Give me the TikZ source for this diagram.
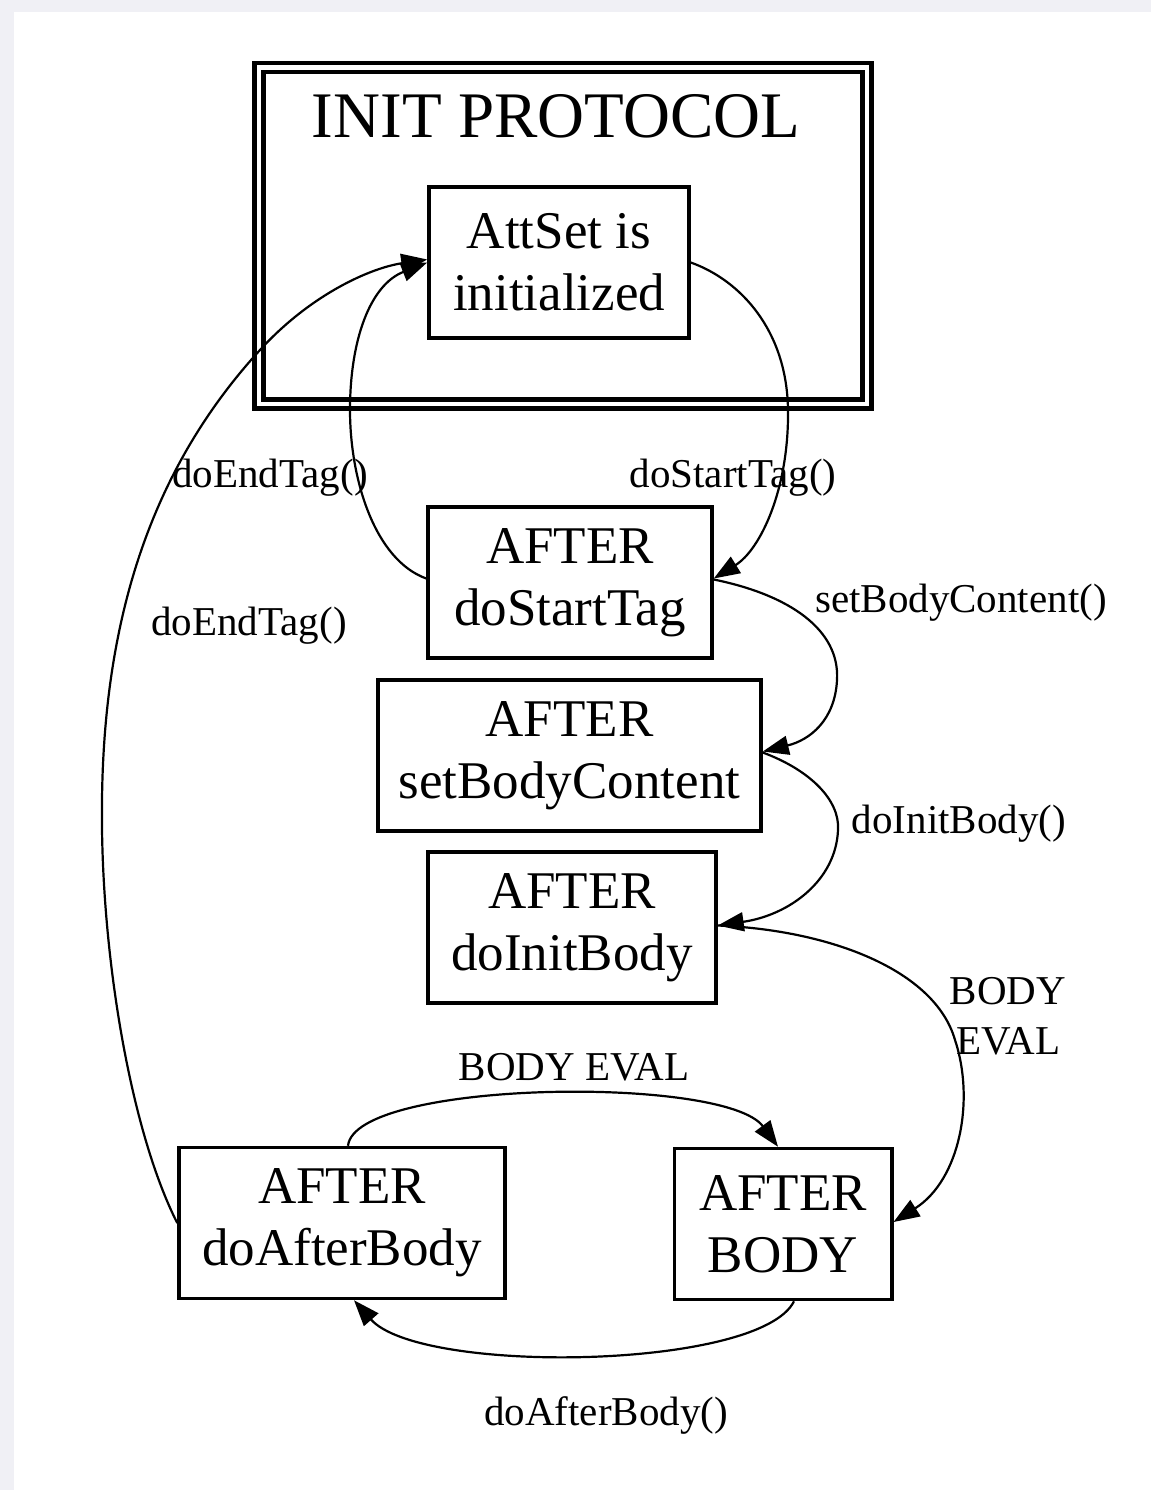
\documentclass[tikz,border=0pt]{standalone}
\usepackage{fontspec}
\setmainfont{Liberation Serif}
\usetikzlibrary{arrows.meta,calc}
\definecolor{framegray}{RGB}{240,240,245}
\begin{document}
\begin{tikzpicture}[x=1pt,y=-1pt,
  statebox/.style={draw, line width=3.5pt, rectangle, minimum height=151pt, inner sep=0pt, align=center, font=\fontsize{53}{62}\selectfont},
  lbl/.style={inner sep=0pt, anchor=base, font=\fontsize{41}{50}\selectfont},
  trans/.style={line width=2.2pt, -{Triangle[length=26pt,width=19pt]}},
  clusterbox/.style={draw, line width=4.5pt, double=white, double distance=4.5pt, rectangle, inner sep=0pt},
]
\useasboundingbox (0,0) rectangle (1151,1490);
\fill[framegray] (0,0) rectangle (1151,1490);
\fill[white] (14,12) rectangle (1151,1490);

% cluster
\node[clusterbox, minimum width=607.75pt, minimum height=336.5pt] (cluster) at (562.9,235.75) {};
\node[inner sep=0pt, anchor=base, font=\fontsize{65}{70}\selectfont] (ctitle) at (556,138) {INIT PROTOCOL};

% states
\node[statebox, minimum width=260pt] (attset) at (559,262.5) {AttSet is\\initialized};
\node[statebox, minimum width=284pt] (dostart) at (570,582.5) {AFTER\\doStartTag};
\node[statebox, minimum width=383pt] (setbody) at (569.5,755.5) {AFTER\\setBodyContent};
\node[statebox, minimum width=288pt] (initbody) at (572,927.5) {AFTER\\doInitBody};
\node[statebox, minimum width=326pt] (afterbody) at (342,1223) {AFTER\\doAfterBody};
\node[statebox, minimum width=217.5pt] (body) at (783,1224) {AFTER\\BODY};

% transitions
\draw[trans] (attset.east) .. controls (740,280) and (787,330) .. (788,410)
  .. controls (789,490) and (760,550) .. ($(dostart.east)+(0,-4)$);
\draw[trans] ($(dostart.west)+(0,-4)$) .. controls (375,560) and (350,480) .. (350,410)
  .. controls (350,340) and (370,285) .. (attset.west);
\draw[trans] (afterbody.west) .. controls (130,1130) and (100,950) .. (102,800)
  .. controls (104,620) and (150,470) .. (260,350)
  .. controls (310,295) and (370,268) .. ($(attset.west)+(0,-3)$);
\draw[trans] ($(dostart.east)+(0,-3)$) .. controls (790,595) and (840,630) .. (837,680)
  .. controls (835,720) and (810,740) .. ($(setbody.east)+(0,-4)$);
\draw[trans] ($(setbody.east)+(0,-3)$) .. controls (810,770) and (840,800) .. (838,830)
  .. controls (836,880) and (790,915) .. ($(initbody.east)+(0,-2)$);
\draw[trans] ($(initbody.east)+(0,-2)$) .. controls (830,930) and (935,970) .. (955,1040)
  .. controls (975,1100) and (960,1180) .. ($(body.east)+(0,-2)$);
\draw[trans] ($(afterbody.north)+(6,0)$) .. controls (355,1080) and (725,1075) .. ($(body.north)+(-5,0)$);
\draw[trans] ($(body.south)+(11,0)$) .. controls (760,1370) and (420,1375) .. ($(afterbody.south)+(12,0)$);

% labels
\node[lbl] (l1) at (270,487) {doEndTag()};
\node[lbl] (l2) at (733,487) {doStartTag()};
\node[lbl] (l3) at (961,612) {setBodyContent()};
\node[lbl] (l4) at (959,833) {doInitBody()};
\node[lbl] (l5) at (249,635) {doEndTag()};
\node[lbl] (l6) at (574,1080) {BODY EVAL};
\node[lbl, anchor=center, align=center] (l7) at (1008,1016.5) {BODY\\EVAL};
\node[lbl] (l8) at (606,1425) {doAfterBody()};
\end{tikzpicture}
\end{document}
